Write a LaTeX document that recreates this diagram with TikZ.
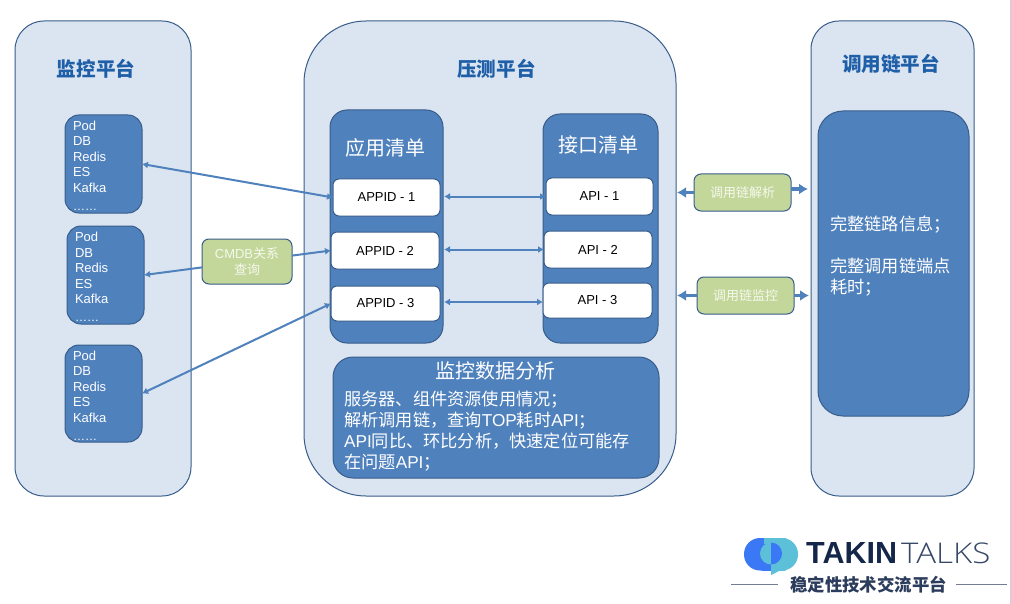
\documentclass[tikz,border=0pt]{standalone}
\usepackage{fontspec}
\setmainfont{Noto Sans CJK SC}
\newfontfamily\lat{Liberation Sans}
\newfontfamily\thin{Open Sans}[UprightFont=* Light,FakeStretch=1.16]
\usetikzlibrary{arrows.meta}
\definecolor{panelfill}{HTML}{DBE5F2}
\definecolor{edge}{HTML}{385D8A}
\definecolor{blue}{HTML}{4F81BD}
\definecolor{green}{HTML}{C4D79B}
\definecolor{title}{HTML}{1F5FA8}
\definecolor{navy}{HTML}{14264A}
\definecolor{paletext}{HTML}{F5F8EC}
\definecolor{logoblue}{HTML}{3B78F5}
\definecolor{logoteal}{HTML}{5CC0D8}
\newcommand{\rbox}[7]{%
  \pgfmathsetmacro\rcx{(#3+#5)/2}\pgfmathsetmacro\rcy{(#4+#6)/2}%
  \pgfmathsetmacro\rw{#5-#3}\pgfmathsetmacro\rh{#6-#4}%
  \node[#1,minimum width=\rw pt,minimum height=\rh pt] (#2) at (\rcx,\rcy) {#7};}
\tikzset{
  base/.style={draw=edge,line width=1pt,inner sep=0pt,outer sep=0pt,rectangle},
  panel/.style={base,fill=panelfill},
  bluebox/.style={base,fill=blue,text=white},
  whitebox/.style={base,fill=white,text=black,rounded corners=6pt,font=\lat\fontsize{13}{15}\selectfont},
  greenbox/.style={base,fill=green,text=paletext,rounded corners=7pt,align=center},
  stack/.style={bluebox,rounded corners=14pt,align=left,text width=61pt,font=\lat\fontsize{13}{15.5}\selectfont},
  paneltitle/.style={inner sep=0pt,text=title,font=\fontsize{19.6}{22}\selectfont\bfseries},
  listtitle/.style={inner sep=0pt,text=white,font=\fontsize{20}{23}\selectfont},
  link/.style={draw=blue,line width=2pt,{Latex[length=6pt,width=7pt]}-{Latex[length=6pt,width=7pt]}},
  fat/.style={draw=blue,line width=3pt,-{Latex[length=9pt,width=11pt]}},
  bodytext/.style={inner sep=0pt,text=white,align=left,anchor=north west,font=\fontsize{17.2}{20.8}\selectfont},
}
\newcommand{\stacktext}{\rule{0pt}{13pt}Pod\\DB\\Redis\\ES\\Kafka\\[2.5pt]{\fontsize{12}{12}\selectfont ……}}
\begin{document}
\begin{tikzpicture}[x=1pt,y=-1pt]
\useasboundingbox (0,0) rectangle (1011,604);
\fill[white] (0,0) rectangle (1011,604);
\fill[black!18] (1009.5,0) rectangle (1011,604);
% panels
\rbox{panel,rounded corners=29pt}{monitor}{15}{21}{191}{496}{}
\rbox{panel,rounded corners=62pt}{load}{304}{21}{676}{496}{}
\rbox{panel,rounded corners=28pt}{chain}{811}{21}{974}{496}{}
\node[paneltitle] (tmon) at (96,69) {监控平台};
\node[paneltitle] (tload) at (496.5,69) {压测平台};
\node[paneltitle] (tchain) at (891,64) {调用链平台};
% left stacks
\rbox{stack}{p1}{65}{115}{142}{213}{\stacktext}
\rbox{stack}{p2}{67}{226}{144}{324}{\stacktext}
\rbox{stack}{p3}{65}{345}{142}{442}{\stacktext}
% lists
\rbox{bluebox,rounded corners=17pt}{applist}{330}{110}{443}{343}{}
\rbox{bluebox,rounded corners=17pt}{apilist}{543}{114}{658}{343}{}
\node[listtitle] (tapp) at (385,148) {应用清单};
\node[listtitle] (tapi) at (598,145) {接口清单};
\rbox{whitebox}{app1}{333}{179}{440}{216}{APPID - 1}
\rbox{whitebox}{app2}{331}{232}{439}{269}{APPID - 2}
\rbox{whitebox}{app3}{331}{286}{440}{321}{APPID - 3}
\rbox{whitebox}{api1}{546}{178}{653}{215}{API - 1}
\rbox{whitebox}{api2}{544}{231}{652}{268}{API - 2}
\rbox{whitebox}{api3}{543}{283}{652}{318}{API - 3}
% analysis
\rbox{bluebox,rounded corners=20pt}{analysis}{333}{357}{659}{478}{}
\node[listtitle] (tana) at (495,371) {监控数据分析};
\node[bodytext] (bana) at (344,391) {服务器、组件资源使用情况；\\解析调用链，查询{\lat TOP}耗时{\lat API}；\\{\lat API}同比、环比分析，快速定位可能存\\在问题{\lat API}；};
% right
\rbox{bluebox,rounded corners=25pt}{full}{818}{111}{969}{416}{}
\node[bodytext] (bfull) at (830,216) {完整链路信息；\\[21pt]完整调用链端点\\耗时；};
% green
\rbox{greenbox,font=\fontsize{13}{16}\selectfont}{cmdb}{202}{239}{292}{284}{{\lat CMDB}关系\\查询}
\rbox{greenbox,font=\fontsize{13}{15}\selectfont}{parse}{694}{174}{791}{211}{调用链解析}
\rbox{greenbox,font=\fontsize{13}{15}\selectfont}{mon}{697}{277}{794}{314}{调用链监控}
% connectors
\draw[link] (p1.east) -- (app1.west);
\draw[link] (p3.east) -- (app3.west);
\draw[link,{Latex[length=6pt,width=7pt]}-] (p2.east) -- (cmdb);
\draw[link,-{Latex[length=6pt,width=7pt]}] (cmdb) -- (app2.west);
\draw[link] ([xshift=1pt]applist.east |- api1.west) -- (api1.west);
\draw[link] ([xshift=1pt]applist.east |- api2.west) -- (api2.west);
\draw[link] ([xshift=1pt,yshift=-1.5pt]applist.east |- api3.west) -- ([yshift=-1.5pt]api3.west);
\draw[fat] (parse.west) -- ([xshift=1pt]load.east |- parse.west);
\draw[fat] ([yshift=3.5pt]parse.east) -- ([xshift=-3pt,yshift=3.5pt]chain.west |- parse.east);
\draw[fat] (mon.west) -- ([xshift=1pt]load.east |- mon.west);
\draw[fat] (mon.east) -- ([xshift=-2pt]chain.west |- mon.east);
% logo
\fill[logoblue,rounded corners=16pt] (744,538) rectangle (778,570.5);
\fill[logoblue] (762,538) rectangle (772,570.5);
\fill[logoteal,rounded corners=16pt] (770,538) rectangle (798,570.5);
\fill[logoteal] (764,538) rectangle (785,544);
\fill[logoteal] (771,540) rectangle (785,570.5);
\fill[logoteal] (771,570) -- (771,575) -- (781,570) -- cycle;
\fill[logoteal] (771,542.5) arc[start angle=90,end angle=270,radius=11pt] -- cycle;
\fill[logoblue] (771,542.5) arc[start angle=90,end angle=-90,radius=11pt] -- cycle;
\node[inner sep=0pt,anchor=base west,text=navy] (takin) at (806,563) {\lat\bfseries\fontsize{30.5}{30}\selectfont TAKIN};
\node[inner sep=0pt,anchor=base west,text=navy!85] (talks) at (901,563) {\thin\fontsize{28.5}{30}\selectfont TALKS};
\node[inner sep=0pt,text=navy!90,font=\fontsize{17.4}{20}\selectfont\bfseries] (sub) at (868.5,585) {稳定性技术交流平台};
\coordinate (la) at (731,584); \coordinate (lb) at (778,584);
\coordinate (lc) at (956,584); \coordinate (ld) at (1007,584);
\draw[navy!60,line width=1pt] (la) -- (lb);
\draw[navy!60,line width=1pt] (lc) -- (ld);
\end{tikzpicture}
\end{document}
